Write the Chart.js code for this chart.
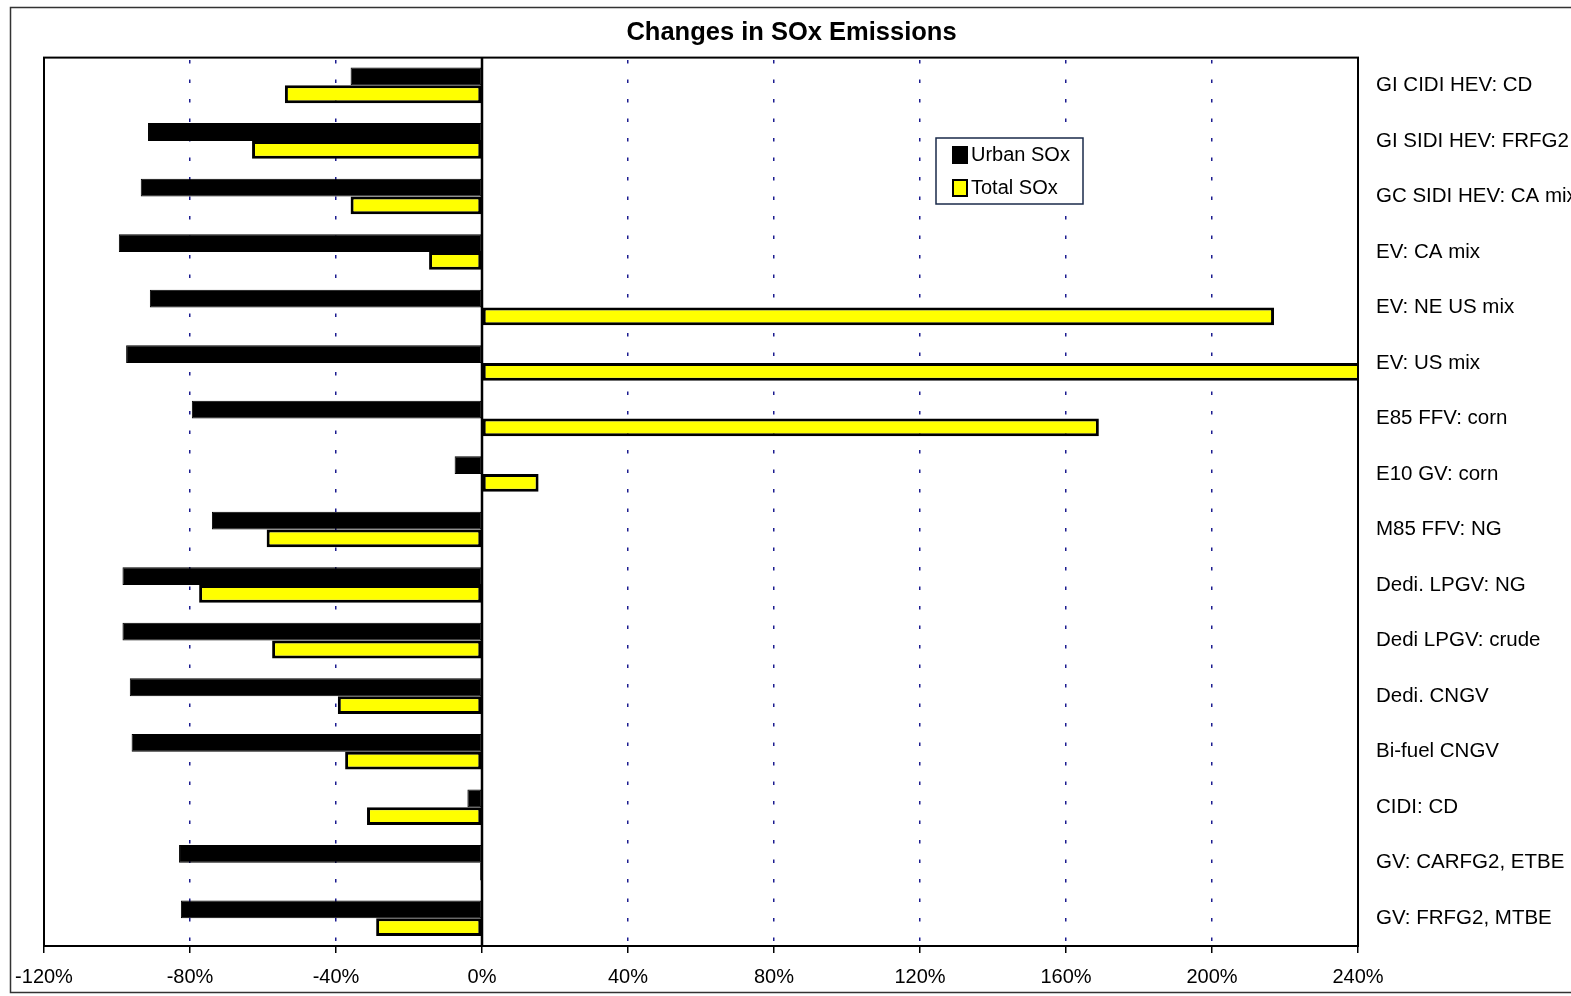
<!DOCTYPE html>
<html>
<head>
<meta charset="utf-8">
<title>Changes in SOx Emissions</title>
<script src="https://cdn.jsdelivr.net/npm/chart.js@4.4.0/dist/chart.umd.min.js"></script>
<style>
  body { margin: 0; background: #fff; }
  #wrap { width: 1571px; height: 996px; position: relative; }
</style>
</head>
<body>
<div id="wrap"><canvas id="sox-chart"></canvas></div>
<script>
// data (percent change)
var categories = [
    "GI CIDI HEV: CD", "GI SIDI HEV: FRFG2", "GC SIDI HEV: CA mix", "EV: CA mix",
    "EV: NE US mix", "EV: US mix", "E85 FFV: corn", "E10 GV: corn",
    "M85 FFV: NG", "Dedi. LPGV: NG", "Dedi LPGV: crude", "Dedi. CNGV",
    "Bi-fuel CNGV", "CIDI: CD", "GV: CARFG2, ETBE", "GV: FRFG2, MTBE"
];
var urbanSOx = [-36, -91.5, -93.5, -99.5, -91, -97.5, -79.5, -7.5, -74, -98.5, -98.5, -96.5, -96, -4, -83, -82.5];
var totalSOx = [-54, -63, -36, -14.5, 217, 245, 169, 15.5, -59, -77.5, -57.5, -39.5, -37.5, -31.5, -0.5, -29];
var xTicks = { min: -120, max: 240, step: 40 };

var FONT = "'Liberation Sans', Arial, sans-serif";

// frame, plot border, zero line and legend box
var decorations = {
    id: "decorations",
    beforeDraw: function (chart) {
        var ctx = chart.ctx;
        ctx.save();
        ctx.strokeStyle = "#333";
        ctx.lineWidth = 1.5;
        ctx.strokeRect(10.5, 7.5, 1575, 985);
        ctx.restore();
    },
    afterDatasetsDraw: function (chart) {
        var ctx = chart.ctx;
        var a = chart.chartArea;
        var x0 = chart.scales.x.getPixelForValue(0);
        ctx.save();
        ctx.strokeStyle = "#000";
        ctx.lineWidth = 2.5;
        ctx.beginPath();
        ctx.moveTo(x0, a.top);
        ctx.lineTo(x0, a.bottom);
        ctx.stroke();
        ctx.lineWidth = 2;
        ctx.strokeRect(a.left, a.top, a.right - a.left, a.bottom - a.top);

        // legend
        var lx = 936, ly = 138, lw = 147, lh = 66;
        ctx.fillStyle = "#fff";
        ctx.fillRect(lx, ly, lw, lh);
        ctx.strokeStyle = "#1a2a4a";
        ctx.lineWidth = 1.5;
        ctx.strokeRect(lx, ly, lw, lh);
        ctx.font = "20px " + FONT;
        ctx.textBaseline = "middle";
        chart.data.datasets.forEach(function (ds, i) {
            var cy = 155 + i * 33;
            ctx.fillStyle = ds.backgroundColor;
            ctx.fillRect(lx + 17, cy - 8, 14, 16);
            ctx.strokeStyle = "#000";
            ctx.lineWidth = 2;
            ctx.strokeRect(lx + 17, cy - 8, 14, 16);
            ctx.fillStyle = "#000";
            ctx.fillText(ds.label, lx + 35, cy);
        });
        ctx.restore();
    }
};

var chartConfig = {
    type: "bar",
    data: {
        labels: categories,
        datasets: [{
            label: "Urban SOx",
            data: urbanSOx,
            backgroundColor: "#000000",
            borderColor: "#000000",
            borderWidth: 1,
            borderSkipped: false
        }, {
            label: "Total SOx",
            data: totalSOx,
            backgroundColor: "#ffff00",
            borderColor: "#000000",
            borderWidth: 3,
            borderSkipped: false
        }]
    },
    options: {
        indexAxis: "y",
        responsive: true,
        maintainAspectRatio: false,
        animation: false,
        layout: { padding: { left: 12, right: 0, top: 0, bottom: 0 } },
        datasets: { bar: { categoryPercentage: 0.64, barPercentage: 1.0 } },
        plugins: {
            legend: { display: false },
            tooltip: { enabled: false },
            title: {
                display: true,
                text: "Changes in SOx Emissions",
                color: "#000",
                font: { family: FONT, size: 25.5, weight: "bold" },
                padding: { top: 18, bottom: 9 }
            }
        },
        scales: {
            x: {
                min: xTicks.min,
                max: xTicks.max,
                afterFit: function (scale) { scale.height = 50; },
                ticks: {
                    stepSize: xTicks.step,
                    color: "#000",
                    padding: 12,
                    font: { family: FONT, size: 20 },
                    callback: function (v) { return v + "%"; }
                },
                grid: {
                    color: "#1c1c90",
                    lineWidth: 1.5,
                    drawTicks: true,
                    tickLength: 7,
                    tickColor: "#000",
                    tickBorderDash: []
                },
                border: { display: false, dash: [3.5, 16], dashOffset: 17 }
            },
            // empty spacer on the left so the plot starts where the original does
            yLeft: {
                type: "category",
                position: "left",
                afterFit: function (scale) { scale.width = 32; },
                ticks: { display: false },
                grid: { display: false, drawTicks: false },
                border: { display: false }
            },
            y: {
                position: "right",
                afterFit: function (scale) { scale.width = 213; },
                ticks: {
                    color: "#000",
                    padding: 18,
                    font: { family: FONT, size: 20.5 }
                },
                grid: { display: false, drawTicks: false },
                border: { display: false }
            }
        }
    },
    plugins: [decorations]
};

var soxChart = new Chart(document.getElementById("sox-chart"), chartConfig);
</script>
</body>
</html>
